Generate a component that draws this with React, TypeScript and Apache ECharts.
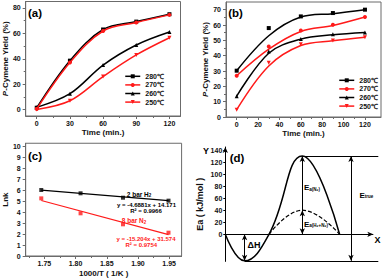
import React, { useEffect, useRef } from "react";
import * as echarts from "echarts";

// ---------- Panel (a) ----------
const timeA = [0, 30, 60, 90, 120];
const a280 = [1.5, 38.5, 63, 69.2, 75];
const a270 = [0.5, 37, 61.8, 68.5, 74.5];
const a260 = [1.8, 12.5, 35, 50.8, 61];
const a250 = [0.2, 7, 26, 43, 56.5];
const ticksAx = [0, 30, 60, 90, 120];
const minorAx = [15, 45, 75, 105];
const ticksAy = [0, 20, 40, 60, 80];
const minorAy = [10, 30, 50, 70];

// ---------- Panel (b) ----------
const timeB = [0, 30, 60, 90, 120];
const b280 = [30.2, 58, 65.6, 67.8, 70];
const b270 = [26.9, 46, 56.4, 60.2, 65.2];
const b260 = [13.6, 42.7, 50.8, 54, 55.1];
const b250 = [4.8, 35.4, 47.5, 49.9, 52];
const fitB280 = [30.2, 53, 65.2, 67.4, 70];
const fitB270 = [26.9, 44.2, 55.8, 59.7, 65.2];
const fitB260 = [13.6, 41.6, 50.8, 53.6, 55.1];
const fitB250 = [4.8, 33.3, 46.6, 49.7, 52];
const ticksBx = [0, 20, 40, 60, 80, 100, 120];
const minorBx = [10, 30, 50, 70, 90, 110];
const ticksBy = [0, 10, 20, 30, 40, 50, 60, 70];
const minorBy = [5, 15, 25, 35, 45, 55, 65];

const tempLabels = ["280℃", "270℃", "260℃", "250℃"];

// ---------- Panel (c) ----------
const invT = [1.745, 1.808, 1.876, 1.949];
const lnkH2 = [6.0, 5.7, 5.3, 5.03];
const lnkN2 = [5.24, 3.88, 2.88, 2.12];
const slopeH2 = -4.6881;
const interceptH2 = 14.171;
const r2H2 = "0.9966";
const slopeN2 = -15.204;
const interceptN2 = 31.574;
const r2N2 = "0.9754";
const ticksCx = [1.75, 1.8, 1.85, 1.9, 1.95];
const minorCx = [1.725, 1.775, 1.825, 1.875, 1.925];
const ticksCy = [0, 1, 2, 3, 4, 5, 6, 7, 8, 9, 10];

// ---------- Panel (d) ----------
const curveX = [0, 19.3, 43.7, 77, 114.3];
const curveY = [0, -44, 0, 130, 0];
const dashX = [43.7, 77, 114.3];
const dashY = [0, 40, 0];
const eTrueX = 125.7;
const ticksDy = [0, 20, 40, 60, 80, 100, 120, 140];

const AX = "#6b6b6b";
const FONT = "'Liberation Sans', Arial, sans-serif";
const RED = "#ff1a1a";

const pairs = (xs: number[], ys: number[]) => xs.map((x, i) => [x, ys[i]]);

function mainX(gridIndex: number, min: number, max: number, ticks: number[], name: string, nameGap: number, fmt?: (v: number) => string) {
  return {
    type: "value", gridIndex, min, max, position: "bottom",
    axisLine: { show: true, onZero: false, lineStyle: { color: AX, width: 1 } },
    axisTick: { show: true, length: 3, customValues: ticks, lineStyle: { color: AX } },
    axisLabel: { show: true, customValues: ticks, margin: 4, fontSize: 7, fontWeight: "bold", color: "#111", fontFamily: FONT, formatter: fmt },
    splitLine: { show: false },
    name, nameLocation: "middle", nameGap,
    nameTextStyle: { fontSize: 8, fontWeight: "bold", color: "#111", fontFamily: FONT },
  };
}
function minorX(gridIndex: number, min: number, max: number, ticks: number[]) {
  return {
    type: "value", gridIndex, min, max, position: "bottom",
    axisLine: { show: false, onZero: false },
    axisTick: { show: true, length: 2, customValues: ticks, lineStyle: { color: AX } },
    axisLabel: { show: false },
    splitLine: { show: false },
  };
}
function mainY(gridIndex: number, min: number, max: number, ticks: number[], name: string, nameGap: number, rich?: any) {
  return {
    type: "value", gridIndex, min, max, position: "left",
    axisLine: { show: true, onZero: false, lineStyle: { color: AX, width: 1 } },
    axisTick: { show: true, length: 3, customValues: ticks, lineStyle: { color: AX } },
    axisLabel: { show: true, customValues: ticks, margin: 5, fontSize: 7, fontWeight: "bold", color: "#111", fontFamily: FONT },
    splitLine: { show: false },
    name, nameLocation: "middle", nameGap, nameRotate: 90,
    nameTextStyle: { fontSize: 8, fontWeight: "bold", color: "#111", fontFamily: FONT, rich },
  };
}
function minorY(gridIndex: number, min: number, max: number, ticks: number[]) {
  return {
    type: "value", gridIndex, min, max, position: "left",
    axisLine: { show: false, onZero: false },
    axisTick: { show: true, length: 2, customValues: ticks, lineStyle: { color: AX } },
    axisLabel: { show: false },
    splitLine: { show: false },
  };
}

const symbols = ["rect", "circle", "triangle", "triangle"];
const rotations = [0, 0, 0, 180];
const colors = ["#000", RED, "#000", RED];

const yieldRich = {
  i: { fontSize: 8, fontWeight: "bold", fontStyle: "italic", color: "#111", fontFamily: FONT },
  n: { fontSize: 8, fontWeight: "bold", color: "#111", fontFamily: FONT },
};

function txt(x: number, y: number, text: string, size: number, color = "#000", align = "center", rich?: any) {
  return {
    type: "text", x, y, silent: true,
    style: { text, fill: color, fontSize: size, fontWeight: "bold", fontFamily: FONT, align, verticalAlign: "middle", rich },
  };
}

const subRich = (color: string, base: number, sub: number) => ({
  n: { fontSize: base, fontWeight: "bold", color, fontFamily: FONT },
  s: { fontSize: sub, fontWeight: "bold", color, fontFamily: FONT, verticalAlign: "bottom", padding: [3, 0, 0, 0] },
});

function buildOption() {
  const aData = [a280, a270, a260, a250];
  const bData = [b280, b270, b260, b250];
  const bFit = [fitB280, fitB270, fitB260, fitB250];
  const namesA = tempLabels.map((t) => "a:" + t);
  const namesB = tempLabels.map((t) => "b:" + t);
  const series: any[] = [];

  aData.forEach((d, i) => {
    series.push({
      type: "line", name: namesA[i], xAxisIndex: 0, yAxisIndex: 0,
      data: pairs(timeA, d), smooth: 0.35, symbol: symbols[i], symbolRotate: rotations[i], symbolSize: 4,
      lineStyle: { color: colors[i], width: 1.5 }, itemStyle: { color: colors[i] }, z: i === 0 || i === 2 ? 2 : 3,
    });
  });
  bFit.forEach((d, i) => {
    series.push({
      type: "line", xAxisIndex: 2, yAxisIndex: 2, data: pairs(timeB, d), smooth: 0.35, symbol: "none",
      lineStyle: { color: colors[i], width: 1.5 },
    });
  });
  bData.forEach((d, i) => {
    series.push({
      type: "line", name: namesB[i], xAxisIndex: 2, yAxisIndex: 2, data: pairs(timeB, d), symbol: symbols[i],
      symbolRotate: rotations[i], symbolSize: 4, itemStyle: { color: colors[i] },
      lineStyle: { color: colors[i], width: 1.5, opacity: 0 }, z: 4,
    });
  });

  const xEnds = [invT[0], invT[invT.length - 1]];
  series.push({
    type: "line", xAxisIndex: 4, yAxisIndex: 4, symbol: "none",
    data: xEnds.map((x) => [x, slopeH2 * x + interceptH2]), lineStyle: { color: "#000", width: 1.2 },
  });
  series.push({
    type: "line", xAxisIndex: 4, yAxisIndex: 4, symbol: "none",
    data: xEnds.map((x) => [x, slopeN2 * x + interceptN2]), lineStyle: { color: RED, width: 1.2 },
  });
  series.push({ type: "scatter", xAxisIndex: 4, yAxisIndex: 4, data: pairs(invT, lnkH2), symbol: "rect", symbolSize: 4, itemStyle: { color: "#000" } });
  series.push({ type: "scatter", xAxisIndex: 4, yAxisIndex: 4, data: pairs(invT, lnkN2), symbol: "rect", symbolSize: 4, itemStyle: { color: RED } });

  const peakX = curveX[3], peakY = curveY[3], minX = curveX[1], minY = curveY[1], dashPeak = dashY[1];
  const xAxisEnd = 148, lineEnd = 153;
  series.push({
    type: "line", xAxisIndex: 6, yAxisIndex: 5, data: pairs(curveX, curveY), smooth: 0.45, symbol: "none",
    lineStyle: { color: "#000", width: 1.5 },
  });
  series.push({
    type: "line", xAxisIndex: 6, yAxisIndex: 5, data: pairs(dashX, dashY), smooth: 0.45, symbol: "none",
    lineStyle: { color: "#000", width: 1.2, type: [4, 2] },
    markLine: {
      silent: true, animation: false, symbolSize: [4, 6],
      lineStyle: { color: "#000", width: 1, type: "solid" },
      label: { show: false }, emphasis: { disabled: true },
      data: [
        [{ coord: [0, 0], symbol: "none" }, { coord: [xAxisEnd, 0], symbol: "arrow" }],
        [{ coord: [peakX, peakY], symbol: "none" }, { coord: [lineEnd, peakY], symbol: "none" }],
        [{ coord: [minX, minY], symbol: "none" }, { coord: [lineEnd, minY], symbol: "none" }],
        [{ coord: [eTrueX, minY], symbol: "arrow" }, { coord: [eTrueX, peakY], symbol: "arrow" }],
        [{ coord: [minX, 0], symbol: "arrow" }, { coord: [minX, minY], symbol: "arrow" }],
        [{ coord: [peakX, 0], symbol: "arrow" }, { coord: [peakX, peakY], symbol: "arrow" }],
        [{ coord: [peakX, 0], symbol: "none" }, { coord: [peakX, dashPeak], symbol: "arrow" }],
      ],
    },
  });

  const legendFor = (names: string[], left: number, top: number) => ({
    orient: "vertical", itemGap: 0, itemWidth: 15, itemHeight: 5, padding: 0, left, top,
    selectedMode: false,
    data: names.map((n, i) => ({ name: n, lineStyle: { color: colors[i], width: 1.5, opacity: 1 } })),
    formatter: (n: string) => n.slice(2),
    textStyle: { fontSize: 7, fontWeight: "bold", color: "#111", fontFamily: FONT, lineHeight: 8.6 },
  });

  return {
    animation: false,
    textStyle: { fontFamily: FONT },
    grid: [
      { left: 24, top: 1.5, width: 156.5, height: 114.5, show: true, borderColor: AX, borderWidth: 1 },
      { left: 226, top: 2, width: 155, height: 115, show: true, borderColor: AX, borderWidth: 1 },
      { left: 24.4, top: 143.25, width: 157.2, height: 112.75, show: true, borderColor: AX, borderWidth: 1 },
      { left: 225.3, top: 147, width: 153, height: 114.4, show: false },
    ],
    xAxis: [
      mainX(0, -10, 130, ticksAx, "Time (min.)", 12.5),
      minorX(0, -10, 130, minorAx),
      mainX(1, -10, 135, ticksBx, "Time (min.)", 12.5),
      minorX(1, -10, 135, minorBx),
      mainX(2, 1.72, 1.97, ticksCx, "1000/T ( 1/K )", 13, (v: number) => v.toFixed(2)),
      minorX(2, 1.72, 1.97, minorCx),
      { type: "value", gridIndex: 3, min: 0, max: 153, show: false },
    ],
    yAxis: [
      mainY(0, -5, 85, ticksAy, "{i|P}{n|-Cymene Yield (%)}", 11, yieldRich),
      minorY(0, -5, 85, minorAy),
      mainY(1, 0, 75, ticksBy, "{i|P}{n|-Cymene Yield (%)}", 15, yieldRich),
      minorY(1, 0, 75, minorBy),
      mainY(2, 0, 10.25, ticksCy, "Lnk", 11.5),
      {
        type: "value", gridIndex: 3, min: -45, max: 145, position: "left",
        axisLine: { show: true, onZero: false, symbol: ["none", "arrow"], symbolSize: [4, 6], lineStyle: { color: "#000", width: 1 } },
        axisTick: { show: true, length: 2, customValues: ticksDy, lineStyle: { color: "#000" } },
        axisLabel: { show: true, customValues: ticksDy, margin: 3, fontSize: 7, fontWeight: "bold", color: "#111", fontFamily: FONT },
        splitLine: { show: false },
        name: "Ea ( kJ/mol )", nameLocation: "middle", nameGap: 21, nameRotate: 90,
        nameTextStyle: { fontSize: 9, fontWeight: "bold", color: "#111", fontFamily: FONT },
      },
    ],
    legend: [legendFor(namesA, 124.5, 72), legendFor(namesB, 338.5, 76)],
    series,
    graphic: [
      txt(35, 12.7, "(a)", 11.5),
      txt(235.5, 12.7, "(b)", 11.5),
      txt(35, 156, "(c)", 11.5),
      txt(237, 158, "(d)", 11.5),
      txt(139, 194, "{n|2 bar H}{s|2}", 6.5, "#000", "center", subRich("#000", 6.5, 4.5)),
      txt(146.5, 205, `y = ${slopeH2}x + ${interceptH2}`, 6),
      txt(146, 211.3, `R² = ${r2H2}`, 6),
      txt(134, 220.5, "{n|8 bar N}{s|2}", 6.5, RED, "center", subRich(RED, 6.5, 4.5)),
      txt(146, 238.5, `y = ${slopeN2}x + ${interceptN2}`, 6, RED),
      txt(141.3, 244.5, `R² = ${r2N2}`, 6, RED),
      txt(206, 151, "Y", 9),
      txt(377.5, 239.5, "X", 9),
      txt(254, 245, "ΔH", 9),
      txt(304, 187.7, "{n|E}{s|a(N₂)}", 8, "#000", "left", subRich("#000", 8, 4.5)),
      txt(304, 224.3, "{n|E}{s|a(H₂+N₂)}", 8, "#000", "left", subRich("#000", 8, 4.5)),
      txt(359.5, 195, "{n|E}{s|true}", 8, "#000", "left", subRich("#000", 8, 4.5)),
    ],
  };
}

export default function App() {
  const ref = useRef<HTMLDivElement>(null);
  useEffect(() => {
    const chart = echarts.init(ref.current!, null, { renderer: "svg" });
    chart.setOption(buildOption() as any);
    return () => chart.dispose();
  }, []);
  return (
    <div
      ref={ref}
      style={{ position: "fixed", left: 0, top: 0, width: 386, height: 279, background: "#fff" }}
    />
  );
}
